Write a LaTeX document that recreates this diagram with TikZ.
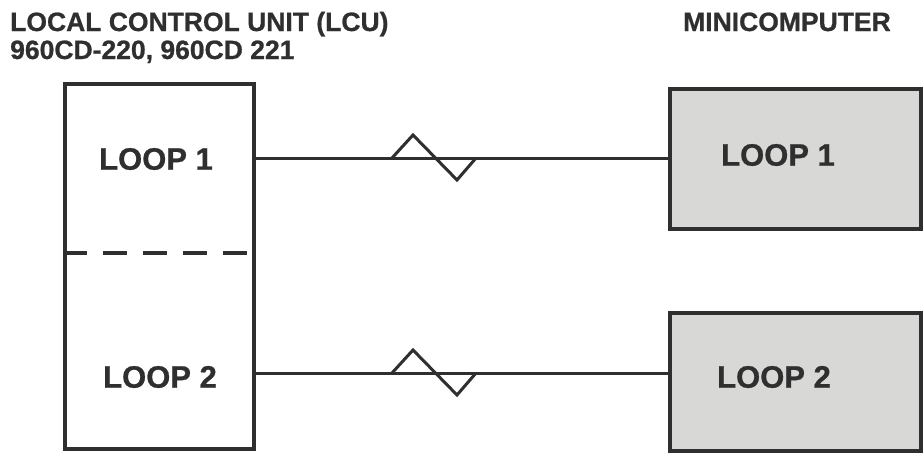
\documentclass[tikz,border=0pt]{standalone}
\usepackage{fontspec}
\setmainfont{Liberation Sans}[BoldFeatures={FakeBold=0.8}]
\usetikzlibrary{positioning}
\definecolor{LcuInk}{HTML}{2F2F2F}
\definecolor{LcuShade}{HTML}{D8D8D6}

\tikzset{
  unitbox/.style={draw=LcuInk,line width=3.5pt,inner sep=0pt},
  looptext/.style={text=LcuInk,inner sep=0pt,font=\bfseries\fontsize{31}{34}\selectfont},
  headtext/.style={text=LcuInk,inner sep=0pt,anchor=base west,font=\bfseries\fontsize{26.5}{28}\selectfont},
  link/.style={draw=LcuInk,line width=3pt},
  brk/.pic={\draw[link,line join=miter] (0,0) -- (21,-23) -- (65,22) -- (84,0);}
}

\begin{document}
\begin{tikzpicture}[x=1pt,y=-1pt]
  \useasboundingbox (0,0) rectangle (924,453);
  % headings
  \node[headtext] (lcuhead) at (10,31) {LOCAL CONTROL UNIT (LCU)};
  \node[headtext] (lcuid) at (10,59) {960CD-220, 960CD 221};
  \node[headtext] (minihead) at (683,31) {MINICOMPUTER};
  % units
  \node[unitbox,minimum width=189pt,minimum height=365pt] (lcu) at (159.5,266.5) {};
  \node[unitbox,fill=LcuShade,minimum width=251pt,minimum height=140pt] (mini1) at (795.5,159) {};
  \node[unitbox,fill=LcuShade,minimum width=251pt,minimum height=138pt] (mini2) at (795.5,382) {};
  \draw[LcuInk,line width=3.5pt,dash pattern=on 24pt off 16pt] (lcu.west |- 0,253) -- (lcu.east |- 0,253);
  \node[looptext] (lcu1) at (156,159) {LOOP 1};
  \node[looptext] (lcu2) at (160,377) {LOOP 2};
  \node[looptext] (mini1txt) at (778,155) {LOOP 1};
  \node[looptext] (mini2txt) at (774,377) {LOOP 2};
  % links
  \coordinate (tap1) at (lcu.east |- 0,158);
  \coordinate (tap2) at (lcu.east |- 0,373);
  \draw[link] (tap1) -- (tap1 -| mini1.west);
  \draw[link] (tap2) -- (tap2 -| mini2.west);
  \pic at (392,158) {brk};
  \pic at (392,373) {brk};
\end{tikzpicture}
\end{document}
